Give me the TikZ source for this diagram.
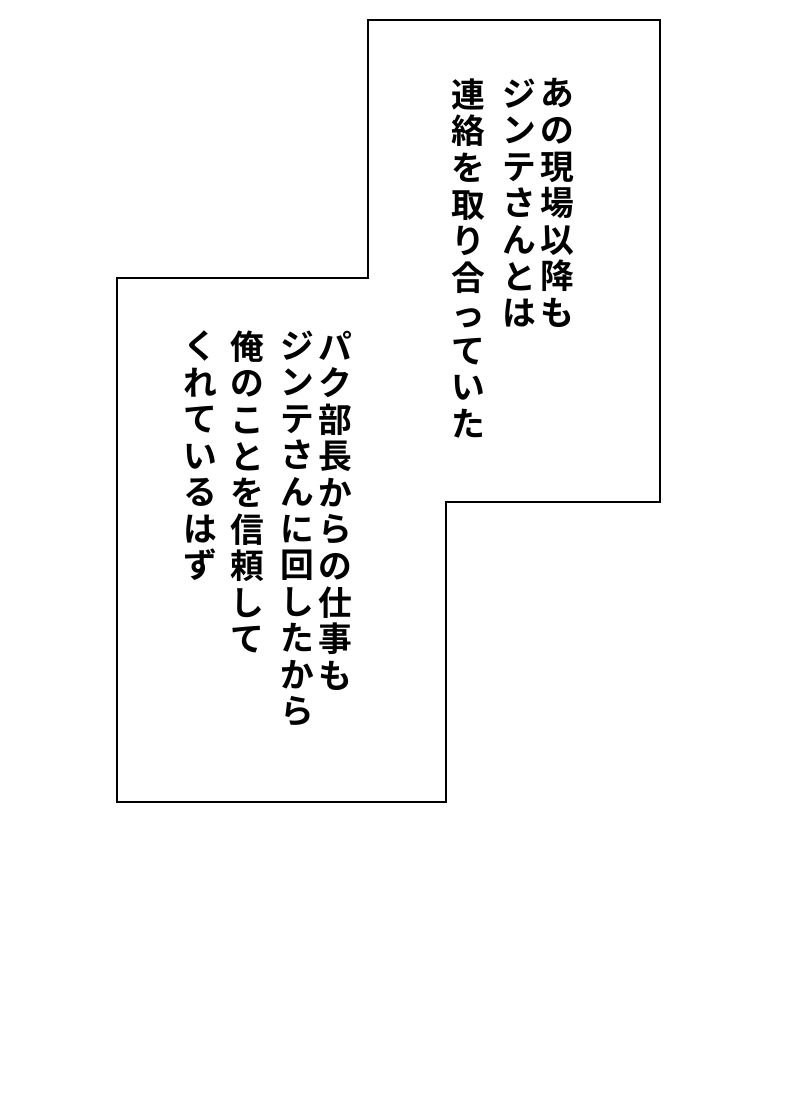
\documentclass[tikz,border=0pt]{standalone}
\usepackage{fontspec}
\newfontfamily\jpfont{Noto Sans CJK JP}[BoldFont={* Bold}]
\ExplSyntaxOn
\NewDocumentCommand\vtext{m}{\tl_map_inline:nn{#1}{##1\\}}
\ExplSyntaxOff
\tikzset{
  panel/.style={draw, line width=0.6pt, fill=white},
  column/.style={anchor=north, align=center, inner sep=0pt,
    font=\jpfont\bfseries\fontsize{9.6pt}{10.4pt}\selectfont}
}
\begin{document}
\begin{tikzpicture}[x=0.01cm,y=-0.01cm]
  \useasboundingbox (0,0) rectangle (800,1111);
  % Panel outline
  \draw[panel] (368,20) -- (660,20) -- (660,502) -- (446,502) -- (446,802)
    -- (117,802) -- (117,278) -- (368,278) -- cycle;

  % Upper caption
  \node[column] (a1) at (557,78) {\vtext{あの現場以降も}};
  \node[column] (a2) at (519,78) {\vtext{ジンテさんとは}};
  \node[column] (a3) at (468,78) {\vtext{連絡を取り合っていた}};

  % Lower caption
  \node[column] (b1) at (335,330) {\vtext{パク部長からの仕事も}};
  \node[column] (b2) at (297,330) {\vtext{ジンテさんに回したから}};
  \node[column] (b3) at (247,330) {\vtext{俺のことを信頼して}};
  \node[column] (b4) at (200,330) {\vtext{くれているはず}};
\end{tikzpicture}
\end{document}
